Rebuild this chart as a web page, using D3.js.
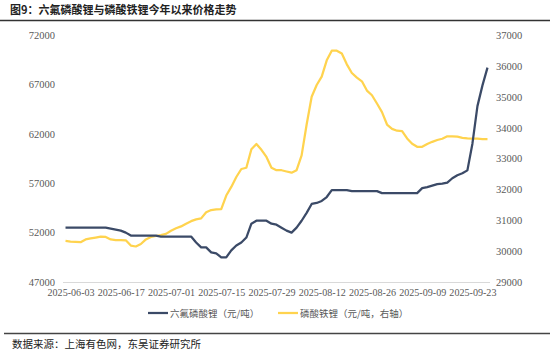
<!DOCTYPE html>
<meta charset="utf-8">
<script src="https://d3js.org/d3.v7.min.js"></script>
<style>
  body { margin: 0; background: #fff; }
  svg { display: block; }
</style>
<div id="my_dataviz"></div>
<script>

// trading days shown on the x axis
const dates = [
  "2025-05-30",
  "2025-06-03","2025-06-04","2025-06-05","2025-06-06","2025-06-09","2025-06-10","2025-06-11","2025-06-12","2025-06-13","2025-06-16",
  "2025-06-17","2025-06-18","2025-06-19","2025-06-20","2025-06-23","2025-06-24","2025-06-25","2025-06-26","2025-06-27","2025-06-30",
  "2025-07-01","2025-07-02","2025-07-03","2025-07-04","2025-07-07","2025-07-08","2025-07-09","2025-07-10","2025-07-11","2025-07-14",
  "2025-07-15","2025-07-16","2025-07-17","2025-07-18","2025-07-21","2025-07-22","2025-07-23","2025-07-24","2025-07-25","2025-07-28",
  "2025-07-29","2025-07-30","2025-07-31","2025-08-01","2025-08-04","2025-08-05","2025-08-06","2025-08-07","2025-08-08","2025-08-11",
  "2025-08-12","2025-08-13","2025-08-14","2025-08-15","2025-08-18","2025-08-19","2025-08-20","2025-08-21","2025-08-22","2025-08-25",
  "2025-08-26","2025-08-27","2025-08-28","2025-08-29","2025-09-01","2025-09-02","2025-09-03","2025-09-04","2025-09-05","2025-09-08",
  "2025-09-09","2025-09-10","2025-09-11","2025-09-12","2025-09-15","2025-09-16","2025-09-17","2025-09-18","2025-09-19","2025-09-22",
  "2025-09-23","2025-09-24","2025-09-25","2025-09-26"
];

// 六氟磷酸锂 (元/吨), left axis
const lipf6 = [
  52500,52500,52500,52500,52500,52500,52500,52500,52500,52400,
  52300,52200,52000,51700,51700,51700,51700,51700,51700,51600,
  51600,51600,51600,51600,51600,51600,51000,50500,50500,50000,
  49900,49500,49500,50200,50700,51000,51500,52900,53200,53200,
  53200,52900,52800,52500,52200,52000,52500,53200,54000,54900,
  55000,55200,55600,56300,56300,56300,56300,56200,56200,56200,
  56200,56200,56200,56000,56000,56000,56000,56000,56000,56000,
  56000,56500,56600,56750,56900,56950,57050,57500,57800,58000,
  58300,61000,64800,66900,68700
];

// 磷酸铁锂 (元/吨), right axis
const lfp = [
  30330,30310,30300,30290,30380,30410,30440,30470,30460,30380,
  30360,30360,30350,30180,30150,30230,30380,30460,30490,30520,
  30560,30660,30740,30800,30890,30970,31030,31060,31260,31330,
  31350,31360,31800,32080,32400,32660,32700,33300,33470,33280,
  33050,32700,32620,32620,32580,32540,32620,33100,34100,35000,
  35380,35650,36180,36490,36490,36400,36050,35770,35620,35500,
  35200,35050,34780,34500,34100,33960,33900,33890,33650,33480,
  33380,33380,33470,33540,33600,33640,33720,33720,33710,33670,
  33650,33640,33640,33630,33630
];

const xTicks = ["2025-06-03","2025-06-17","2025-07-01","2025-07-15","2025-07-29","2025-08-12","2025-08-26","2025-09-09","2025-09-23"];
const leftTicks = [47000,52000,57000,62000,67000,72000];
const rightTicks = [29000,30000,31000,32000,33000,34000,35000,36000,37000];

const title = "图9：六氟磷酸锂与磷酸铁锂今年以来价格走势";
const source = "数据来源：上海有色网，东吴证券研究所";
const seriesNames = ["六氟磷酸锂（元/吨）", "磷酸铁锂（元/吨，右轴）"];
const colors = ["#3b4a67", "#ffd34e"];

const W = 550, H = 352;
const margin = {top: 35, right: 60, bottom: 70, left: 63};
const cjk = "'Noto Sans CJK SC', 'Noto Sans', sans-serif";
const serif = "'Liberation Serif', 'DejaVu Serif', serif";

const svg = d3.select("#my_dataviz")
  .append("svg")
    .attr("width", W)
    .attr("height", H);

// title + rule
svg.append("text")
  .attr("x", 10).attr("y", 14)
  .style("font-family", cjk)
  .style("font-size", "11px")
  .style("font-weight", "bold")
  .style("fill", "#222")
  .text(title);
svg.append("line")
  .attr("x1", 0).attr("x2", W)
  .attr("y1", 20.5).attr("y2", 20.5)
  .style("stroke", "#333").style("stroke-width", 1.6);

// scales
const x = d3.scalePoint()
  .domain(dates)
  .range([margin.left, W - margin.right])
  .padding(0.5);
const yL = d3.scaleLinear().domain([47000, 72000]).range([282, margin.top]);
const yR = d3.scaleLinear().domain([29000, 37000]).range([282, margin.top]);

// x axis
svg.append("g")
  .attr("transform", "translate(0,282)")
  .call(d3.axisBottom(x).tickValues(xTicks).tickSize(0).tickPadding(7))
  .call(g => g.select(".domain").attr("d", `M${margin.left},0.5H${W - margin.right}`).style("stroke", "#d9d9d9"))
  .call(g => g.selectAll("text").style("font-family", serif).style("font-size", "10.1px").style("fill", "#595959"));

// left axis
svg.append("g")
  .attr("transform", `translate(${margin.left},0)`)
  .call(d3.axisLeft(yL).tickValues(leftTicks).tickFormat(d3.format("d")).tickSize(0).tickPadding(8))
  .call(g => g.select(".domain").remove())
  .call(g => g.selectAll("text").style("font-family", serif).style("font-size", "10.5px").style("fill", "#595959"));

// right axis
svg.append("g")
  .attr("transform", `translate(${W - margin.right},0)`)
  .call(d3.axisRight(yR).tickValues(rightTicks).tickFormat(d3.format("d")).tickSize(0).tickPadding(6))
  .call(g => g.select(".domain").remove())
  .call(g => g.selectAll("text").style("font-family", serif).style("font-size", "10.5px").style("fill", "#595959"));

// lines
const lineL = d3.line().x((d, i) => x(dates[i])).y(d => yL(d));
const lineR = d3.line().x((d, i) => x(dates[i])).y(d => yR(d));

svg.append("path")
  .datum(lfp)
  .attr("d", lineR)
  .style("fill", "none")
  .style("stroke", colors[1])
  .style("stroke-width", 2.25)
  .style("stroke-linejoin", "round");

svg.append("path")
  .datum(lipf6)
  .attr("d", lineL)
  .style("fill", "none")
  .style("stroke", colors[0])
  .style("stroke-width", 2.25)
  .style("stroke-linejoin", "round");

// legend
const legendX = [148, 278];
seriesNames.forEach(function(name, i) {
  const g = svg.append("g").attr("transform", `translate(${legendX[i]},313)`);
  g.append("line")
    .attr("x1", 0).attr("x2", 20)
    .style("stroke", colors[i]).style("stroke-width", 2.25);
  g.append("text")
    .attr("x", 22).attr("y", 3.5)
    .style("font-family", cjk)
    .style("font-size", "9.5px")
    .style("fill", "#595959")
    .text(name);
});

// source rule + note
svg.append("line")
  .attr("x1", 4).attr("x2", W)
  .attr("y1", 333.5).attr("y2", 333.5)
  .style("stroke", "#444").style("stroke-width", 1.4);
svg.append("text")
  .attr("x", 12).attr("y", 348)
  .style("font-family", cjk)
  .style("font-size", "10.5px")
  .style("fill", "#222")
  .text(source);

</script>
